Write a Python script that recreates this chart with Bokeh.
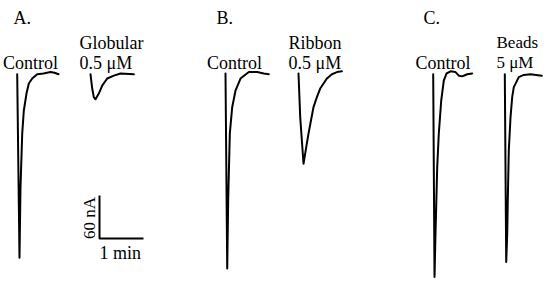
import math
from bokeh.plotting import figure
from bokeh.models import Range1d
from bokeh.core.properties import value
from bokeh.embed import file_html
from bokeh.resources import INLINE

# ---------------- data (time in min from trace start, current in nA) ----------------
ctrl_a_t = [0, 0.052, 0.075, 0.114, 0.150, 0.211, 0.264, 0.341, 0.455, 0.598, 0.757, 0.848, 0.939]
ctrl_a_i = [-1, -257, -159, -84, -52, -28, -14, -7, -1, 0, 2, 1, -1]

glob_t = [0, 0.039, 0.075, 0.114, 0.189, 0.266, 0.380, 0.530, 0.682, 0.985]
glob_i = [-1, -21, -33, -36, -28, -17, -7, -3, 0, -1]

ctrl_b_t = [0, 0.039, 0.061, 0.098, 0.152, 0.227, 0.341, 0.530, 0.720, 0.870, 0.984]
ctrl_b_i = [0, -272, -177, -84, -47, -24, -7, 2, 2, 0, -1]

ribbon_t = [0, 0.039, 0.114, 0.175, 0.227, 0.282, 0.341, 0.418, 0.493, 0.645, 0.759, 0.873, 0.986]
ribbon_i = [0, -61, -126, -103, -84, -66, -47, -33, -21, -7, -1, 2, 3]

ctrl_c_t = [0, 0.030, 0.052, 0.091, 0.127, 0.182, 0.241, 0.302, 0.393, 0.507, 0.582, 0.659, 0.773, 0.886]
ctrl_c_i = [-1, -284, -224, -131, -84, -38, -10, 0, 3, 2, -3, -4, -1, 0]

beads_t = [0, 0.032, 0.055, 0.068, 0.091, 0.130, 0.168, 0.205, 0.318, 0.432, 0.584, 0.841]
beads_i = [-1, -263, -224, -177, -107, -61, -33, -19, -5, -2, -1, -3]

scale_time = 1.0     # min
scale_current = 60.0  # nA

panel_letters = ["A.", "B.", "C."]
drug_names = ["Globular", "Ribbon", "Beads"]
drug_doses = ["0.5 \u03bcM", "0.5 \u03bcM", "5 \u03bcM"]

# ---------------- layout ----------------
W, H = 550, 282
PX_PER_MIN = 44.0
NA_PER_PX = 60.0 / 43.0
BASE_PY = 73.0  # page y of 0 nA


def mx(px):  # page x -> minutes
    return px / PX_PER_MIN


def my(py):  # page y -> nA
    return (BASE_PY - py) * NA_PER_PX


p = figure(width=W, height=H, output_backend="svg", toolbar_location=None,
           x_range=Range1d(mx(0), mx(W)), y_range=Range1d(my(H), my(0)),
           x_axis_location=None, y_axis_location=None, min_border=0)
p.outline_line_color = None
p.grid.visible = False
p.background_fill_color = "white"
p.border_fill_color = "white"

traces = [
    (ctrl_a_t, ctrl_a_i, 16.7),
    (glob_t, glob_i, 90.0),
    (ctrl_b_t, ctrl_b_i, 225.0),
    (ribbon_t, ribbon_i, 298.0),
    (ctrl_c_t, ctrl_c_i, 432.7),
    (beads_t, beads_i, 504.3),
]
for t, i, start_px in traces:
    off = mx(start_px)
    p.line([off + v for v in t], i, line_color="black", line_width=2.0,
           line_join="round", line_cap="round")

# scale bar
cx, cy = mx(99), my(238)
p.line([cx, cx, cx + scale_time], [cy + scale_current, cy, cy],
       line_color="black", line_width=2.0)

FONT = value("Liberation Serif")


def label(txt, px, py, align="left", size="18px", angle=0.0, baseline="alphabetic"):
    p.text(x=[mx(px)], y=[my(py)], text=[txt], text_font=FONT,
           text_font_size=size, text_align=align, text_baseline=baseline,
           text_color="black", angle=angle)


for letter, lx in zip(panel_letters, [13, 216, 423]):
    label(letter, lx, 17, size="18px")

for cxp in [30, 234, 442.5]:
    label("Control", cxp, 62, align="center")

for name, dose, lx, sz in zip(drug_names, drug_doses, [79, 288, 496], ["18px", "18px", "17px"]):
    label(name, lx, 42, size=sz)
    label(dose, lx, 62, size=sz)

label("60 nA", 89, 217.5, align="center", size="17px", angle=math.pi / 2)
label("1 min", 99, 252)

open("out.html", "w").write(file_html(p, INLINE))
